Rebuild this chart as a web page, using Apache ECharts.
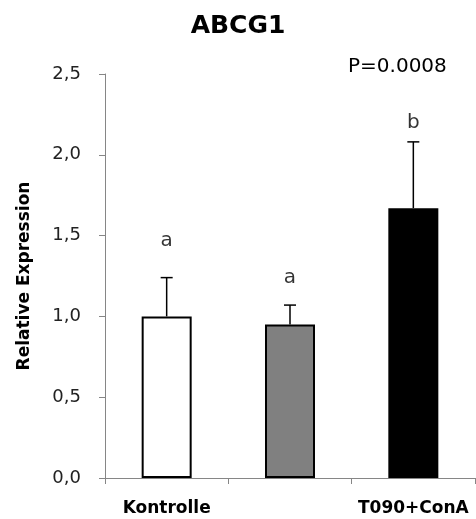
<!DOCTYPE html>
<html>
<head>
<meta charset="utf-8">
<script src="https://cdn.jsdelivr.net/npm/echarts@6/dist/echarts.min.js"></script>
<style>html,body{margin:0;padding:0;background:#fff;}#c{width:476px;height:519px;}</style>
</head>
<body>
<div id="c"></div>
<script>
const categories = ["Kontrolle", "", "T090+ConA"];
const means = [1.00, 0.95, 1.67];
const errorTops = [1.24, 1.07, 2.08];
const letters = ["a", "a", "b"];
const letterLevels = [1.47, 1.24, 2.20];
const barColors = ["#ffffff", "#808080", "#000000"];
const yTicks = [0, 0.5, 1.0, 1.5, 2.0, 2.5];
const titleText = "ABCG1";
const pText = "P=0.0008";

const FONT = "DejaVu Sans";
const chart = echarts.init(document.getElementById('c'), null, {renderer: 'canvas'});
chart.setOption({
  animation: false,
  backgroundColor: '#ffffff',
  title: [
    {text: titleText, left: 'center', top: 9,
     textStyle: {fontFamily: FONT, fontSize: 25, fontWeight: 'bold', color: '#000'}},
    {text: pText, left: 343, top: 52,
     textStyle: {fontFamily: FONT, fontSize: 20, fontWeight: 'normal', color: '#000'}}
  ],
  grid: {left: 105, right: 1, top: 74, bottom: 41, containLabel: false},
  xAxis: {
    type: 'category', data: categories,
    axisLine: {lineStyle: {color: '#868686', width: 1}},
    axisTick: {show: true, alignWithLabel: false, length: 6, lineStyle: {color: '#868686'}},
    axisLabel: {fontFamily: FONT, fontSize: 17, fontWeight: 'bold', color: '#000', margin: 22, interval: 0}
  },
  yAxis: {
    type: 'value', min: yTicks[0], max: yTicks[yTicks.length - 1], interval: yTicks[1] - yTicks[0],
    name: 'Relative Expression', nameLocation: 'middle', nameGap: 72, nameRotate: 90,
    nameTextStyle: {fontFamily: FONT, fontSize: 17, fontWeight: 'bold', color: '#000'},
    axisLine: {show: true, lineStyle: {color: '#868686', width: 1}},
    axisTick: {show: true, length: 6, lineStyle: {color: '#868686'}},
    splitLine: {show: false},
    axisLabel: {fontFamily: FONT, fontSize: 18, color: '#222', margin: 24,
      formatter: v => v.toFixed(1).replace('.', ',')}
  },
  series: [
    {
      type: 'bar', barWidth: 50,
      data: means.map((v, i) => ({value: v, itemStyle: {color: barColors[i], borderColor: '#000', borderWidth: 2}})),
      z: 2
    },
    {
      type: 'custom',
      data: means.map((v, i) => [i, v, errorTops[i]]),
      renderItem: function (params, api) {
        const base = api.coord([api.value(0), api.value(1)]);
        const top = api.coord([api.value(0), api.value(2)]);
        const hw = 6;
        return {
          type: 'group',
          children: [
            {type: 'line', shape: {x1: base[0], y1: base[1], x2: top[0], y2: top[1]}, style: {stroke: '#000', lineWidth: 1.5}},
            {type: 'line', shape: {x1: top[0] - hw, y1: top[1], x2: top[0] + hw, y2: top[1]}, style: {stroke: '#000', lineWidth: 1.5}}
          ]
        };
      },
      z: 1
    },
    {
      type: 'scatter', symbol: 'circle', symbolSize: 1,
      itemStyle: {color: 'rgba(0,0,0,0)'},
      data: letterLevels.map((v, i) => [i, v]),
      label: {show: true, position: 'inside', formatter: p => letters[p.dataIndex],
        fontFamily: FONT, fontSize: 20, color: '#000'},
      z: 3
    }
  ]
});
</script>
</body>
</html>
